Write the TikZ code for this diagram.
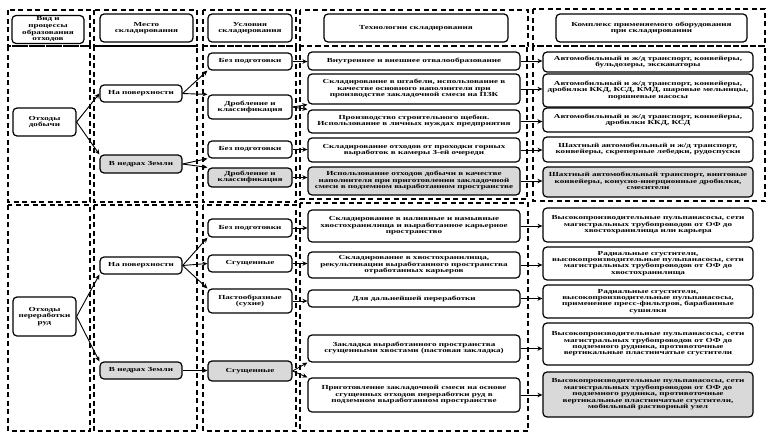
\documentclass[tikz,border=0pt]{standalone}
\usepackage{fontspec}
\setmainfont{Liberation Serif}[FakeStretch=1.47]
\usetikzlibrary{arrows.meta}
\newcommand\boxfont{\bfseries\fontsize{6.2}{6.4}\selectfont}
\newcommand\headfont{\bfseries\fontsize{6.2}{6.6}\selectfont}
\newcommand\ml[1]{\begin{tabular}{@{}c@{}}#1\end{tabular}}
\begin{document}
\begin{tikzpicture}[x=1pt,y=-1pt,
  box/.style={draw, line width=1.2pt, rounded corners=4pt, fill=white, inner sep=0.5pt, font=\boxfont},
  gbox/.style={box, fill=gray!30},
  frame/.style={line width=1.2pt, dash pattern=on 5pt off 3.5pt},
  arr/.style={-{Stealth[length=5pt,width=4.5pt]}, line width=0.9pt}]
\useasboundingbox (0,0) rectangle (771,439);
\fill[white] (0,0) rectangle (771,439);
% dashed frames: headers
\draw[frame] (8,10) rectangle (90,46);
\draw[frame] (94,10) rectangle (197,46);
\draw[frame] (203,10) rectangle (296,46);
\draw[frame] (300,10) rectangle (528,46);
\draw[frame] (533,9) rectangle (765,46);
% upper body
\draw[frame] (8,46) rectangle (90,202);
\draw[frame] (94,46) rectangle (197,202);
\draw[frame] (203,46) rectangle (296,202);
\draw[frame] (300,46) rectangle (527,199);
\draw[frame] (533,46) rectangle (765,201);
% lower body
\draw[frame] (8,205) rectangle (90,431);
\draw[frame] (94,205) rectangle (197,431);
\draw[frame] (203,205) rectangle (296,431);
\draw[frame] (300,203) rectangle (528,431);
% headers
\node[box, minimum width=72pt, minimum height=28pt, font=\headfont] (h1) at (48,29.5) {\ml{Вид и\\процессы\\образования\\отходов}};
\node[box, minimum width=93pt, minimum height=28pt] (h2) at (146.5,28) {\ml{Место\\складирования}};
\node[box, minimum width=84pt, minimum height=28pt] (h3) at (250,28) {\ml{Условия\\складирования}};
\node[box, minimum width=184pt, minimum height=28pt] (h4) at (416,28) {Технологии складирования};
\node[box, minimum width=191pt, minimum height=28pt] (h5) at (651.5,28) {\ml{Комплекс применяемого оборудования\\при складировании}};
% column 1
\node[box, minimum width=63pt, minimum height=28pt] (od) at (44.5,122) {\ml{Отходы\\добычи}};
\node[box, minimum width=63pt, minimum height=39pt] (op) at (44.5,316.5) {\ml{Отходы\\переработки\\руд}};
% column 2
\node[box, minimum width=82pt, minimum height=17pt] (np1) at (141,93.5) {На поверхности};
\node[gbox, minimum width=82pt, minimum height=18pt] (vn1) at (141,164) {В недрах Земли};
\node[box, minimum width=82pt, minimum height=17pt] (np2) at (141,265.5) {На поверхности};
\node[gbox, minimum width=82pt, minimum height=17pt] (vn2) at (141,370.5) {В недрах Земли};
% column 3
\node[box, minimum width=84pt, minimum height=17pt] (bp1) at (250,61.5) {Без подготовки};
\node[box, minimum width=84pt, minimum height=24pt] (dk1) at (250,107) {\ml{Дробление и\\классификация}};
\node[box, minimum width=84pt, minimum height=17pt] (bp2) at (250,149.5) {Без подготовки};
\node[gbox, minimum width=84pt, minimum height=19pt] (dk2) at (250,177.5) {\ml{Дробление и\\классификация}};
\node[box, minimum width=84pt, minimum height=18pt] (bp3) at (250,228) {Без подготовки};
\node[box, minimum width=84pt, minimum height=17pt] (sg1) at (250,263.5) {Сгущенные};
\node[box, minimum width=84pt, minimum height=24pt] (ps) at (250,301) {\ml{Пастообразные\\(сухие)}};
\node[gbox, minimum width=84pt, minimum height=20pt] (sg2) at (250,371) {Сгущенные};
% column 4
\node[box, minimum width=212pt, minimum height=18pt] (t1) at (414,61) {Внутреннее и внешнее отвалообразование};
\node[box, minimum width=212pt, minimum height=30pt] (t2) at (414,89) {\ml{Складирование в штабели, использование в\\качестве основного наполнителя при\\производстве закладочной смеси на ПЗК}};
\node[box, minimum width=212pt, minimum height=23pt] (t3) at (414,121.5) {\ml{Производство строительного щебня.\\Использование в личных нуждах предприятия}};
\node[box, minimum width=212pt, minimum height=24pt] (t4) at (414,150) {\ml{Складирование отходов от проходки горных\\выработок в камеры 3-ей очереди}};
\node[gbox, minimum width=212pt, minimum height=28pt] (t5) at (414,181) {\ml{Использование отходов добычи в качестве\\наполнителя при приготовлении закладочной\\смеси в подземном выработанном пространстве}};
\node[box, minimum width=212pt, minimum height=32pt] (t6) at (414,226) {\ml{Складирование в наливные и намывные\\хвостохранилища и выработанное карьерное\\пространство}};
\node[box, minimum width=212pt, minimum height=26pt] (t7) at (414,265) {\ml{Складирование в хвостохранилища,\\рекультивации выработанного пространства\\отработанных карьеров}};
\node[box, minimum width=212pt, minimum height=17pt] (t8) at (414,298.5) {Для дальнейшей переработки};
\node[box, minimum width=212pt, minimum height=27pt] (t9) at (414,348.5) {\ml{Закладка выработанного пространства\\сгущенными хвостами (пастовая закладка)}};
\node[box, minimum width=212pt, minimum height=34pt] (t10) at (414,395) {\ml{Приготовление закладочной смеси на основе\\сгущенных отходов переработки руд в\\подземном выработанном пространстве}};
% column 5
\node[box, minimum width=210pt, minimum height=20pt] (e1) at (648,62) {\ml{Автомобильный и ж/д транспорт, конвейеры,\\бульдозеры, экскаваторы}};
\node[box, minimum width=210pt, minimum height=33pt] (e2) at (648,90.5) {\ml{Автомобильный и ж/д транспорт, конвейеры,\\дробилки ККД, КСД, КМД, шаровые мельницы,\\поршневые насосы}};
\node[box, minimum width=210pt, minimum height=24pt] (e3) at (648,120) {\ml{Автомобильный и ж/д транспорт, конвейеры,\\дробилки ККД, КСД}};
\node[box, minimum width=210pt, minimum height=25pt] (e4) at (648,149.5) {\ml{Шахтный автомобильный и ж/д транспорт,\\конвейеры, скреперные лебедки, рудоспуски}};
\node[gbox, minimum width=210pt, minimum height=30pt] (e5) at (648,182) {\ml{Шахтный автомобильный транспорт, винтовые\\конвейеры, конусно-инерционные дробилки,\\смесители}};
\node[box, minimum width=210pt, minimum height=34pt] (e6) at (648,225) {\ml{Высокопроизводительные пульпанасосы, сети\\магистральных трубопроводов от ОФ до\\хвостохранилища или карьера}};
\node[box, minimum width=210pt, minimum height=33pt] (e7) at (648,263.5) {\ml{Радиальные сгустители,\\высокопроизводительные пульпанасосы, сети\\магистральных трубопроводов от ОФ до\\хвостохранилища}};
\node[box, minimum width=210pt, minimum height=33pt] (e8) at (648,301.5) {\ml{Радиальные сгустители,\\высокопроизводительные пульпанасосы,\\применение пресс-фильтров, барабанные\\сушилки}};
\node[box, minimum width=210pt, minimum height=42pt] (e9) at (648,344) {\ml{Высокопроизводительные пульпанасосы, сети\\магистральных трубопроводов от ОФ до\\подземного рудника, противоточные\\вертикальные пластинчатые сгустители}};
\node[gbox, minimum width=210pt, minimum height=45pt] (e10) at (648,394.5) {\ml{Высокопроизводительные пульпанасосы, сети\\магистральных трубопроводов от ОФ до\\подземного рудника, противоточные\\вертикальные пластинчатые сгустители,\\мобильный растворный узел}};
% arrows col1 -> col2
\draw[arr] (od.east) -- (np1.west);
\draw[arr] (od.east) -- (vn1.north west);
\draw[arr] (op.east) -- (np2.south west);
\draw[arr] (op.east) -- (vn2.north west);
% col2 -> col3
\draw[arr] (np1.east) -- (bp1.south west);
\draw[arr] (np1.east) -- (dk1.north west);
\draw[arr] (vn1.east) -- (bp2.south west);
\draw[arr] (vn1.east) -- (dk2.north west);
\draw[arr] (np2.east) -- (bp3.south west);
\draw[arr] (np2.east) -- (sg1.west);
\draw[arr] (np2.east) -- (ps.north west);
\draw[arr] (vn2.east) -- (vn2.east -| sg2.west);
% col3 -> col4
\draw[arr] (bp1.east) -- (bp1.east -| t1.west);
\draw[arr] (dk1.east) -- (t2.south west);
\draw[arr] (dk1.east) -- (t3.north west);
\draw[arr] (bp2.east) -- (bp2.east -| t4.west);
\draw[arr] (dk2.east) -- (dk2.east -| t5.west);
\draw[arr] (bp3.east) -- (bp3.east -| t6.west);
\draw[arr] (sg1.east) -- (sg1.east -| t7.west);
\draw[arr] (ps.east) -- (ps.east -| t8.west);
\draw[arr] (sg2.east) -- (t9.south west);
\draw[arr] (sg2.east) -- (t10.north west);
% col4 -> col5
\draw[arr] (t1.east) -- (t1.east -| e1.west);
\draw[arr] (t2.east) -- (t2.east -| e2.west);
\draw[arr] (t3.east) -- (t3.east -| e3.west);
\draw[arr] (t4.east) -- (t4.east -| e4.west);
\draw[arr] (t5.east) -- (t5.east -| e5.west);
\draw[arr] (t6.east) -- (t6.east -| e6.west);
\draw[arr] (t7.east) -- (t7.east -| e7.west);
\draw[arr] (t8.east) -- (t8.east -| e8.west);
\draw[arr] (t9.east) -- (t9.east -| e9.west);
\draw[arr] (t10.east) -- (t10.east -| e10.west);
\end{tikzpicture}
\end{document}
